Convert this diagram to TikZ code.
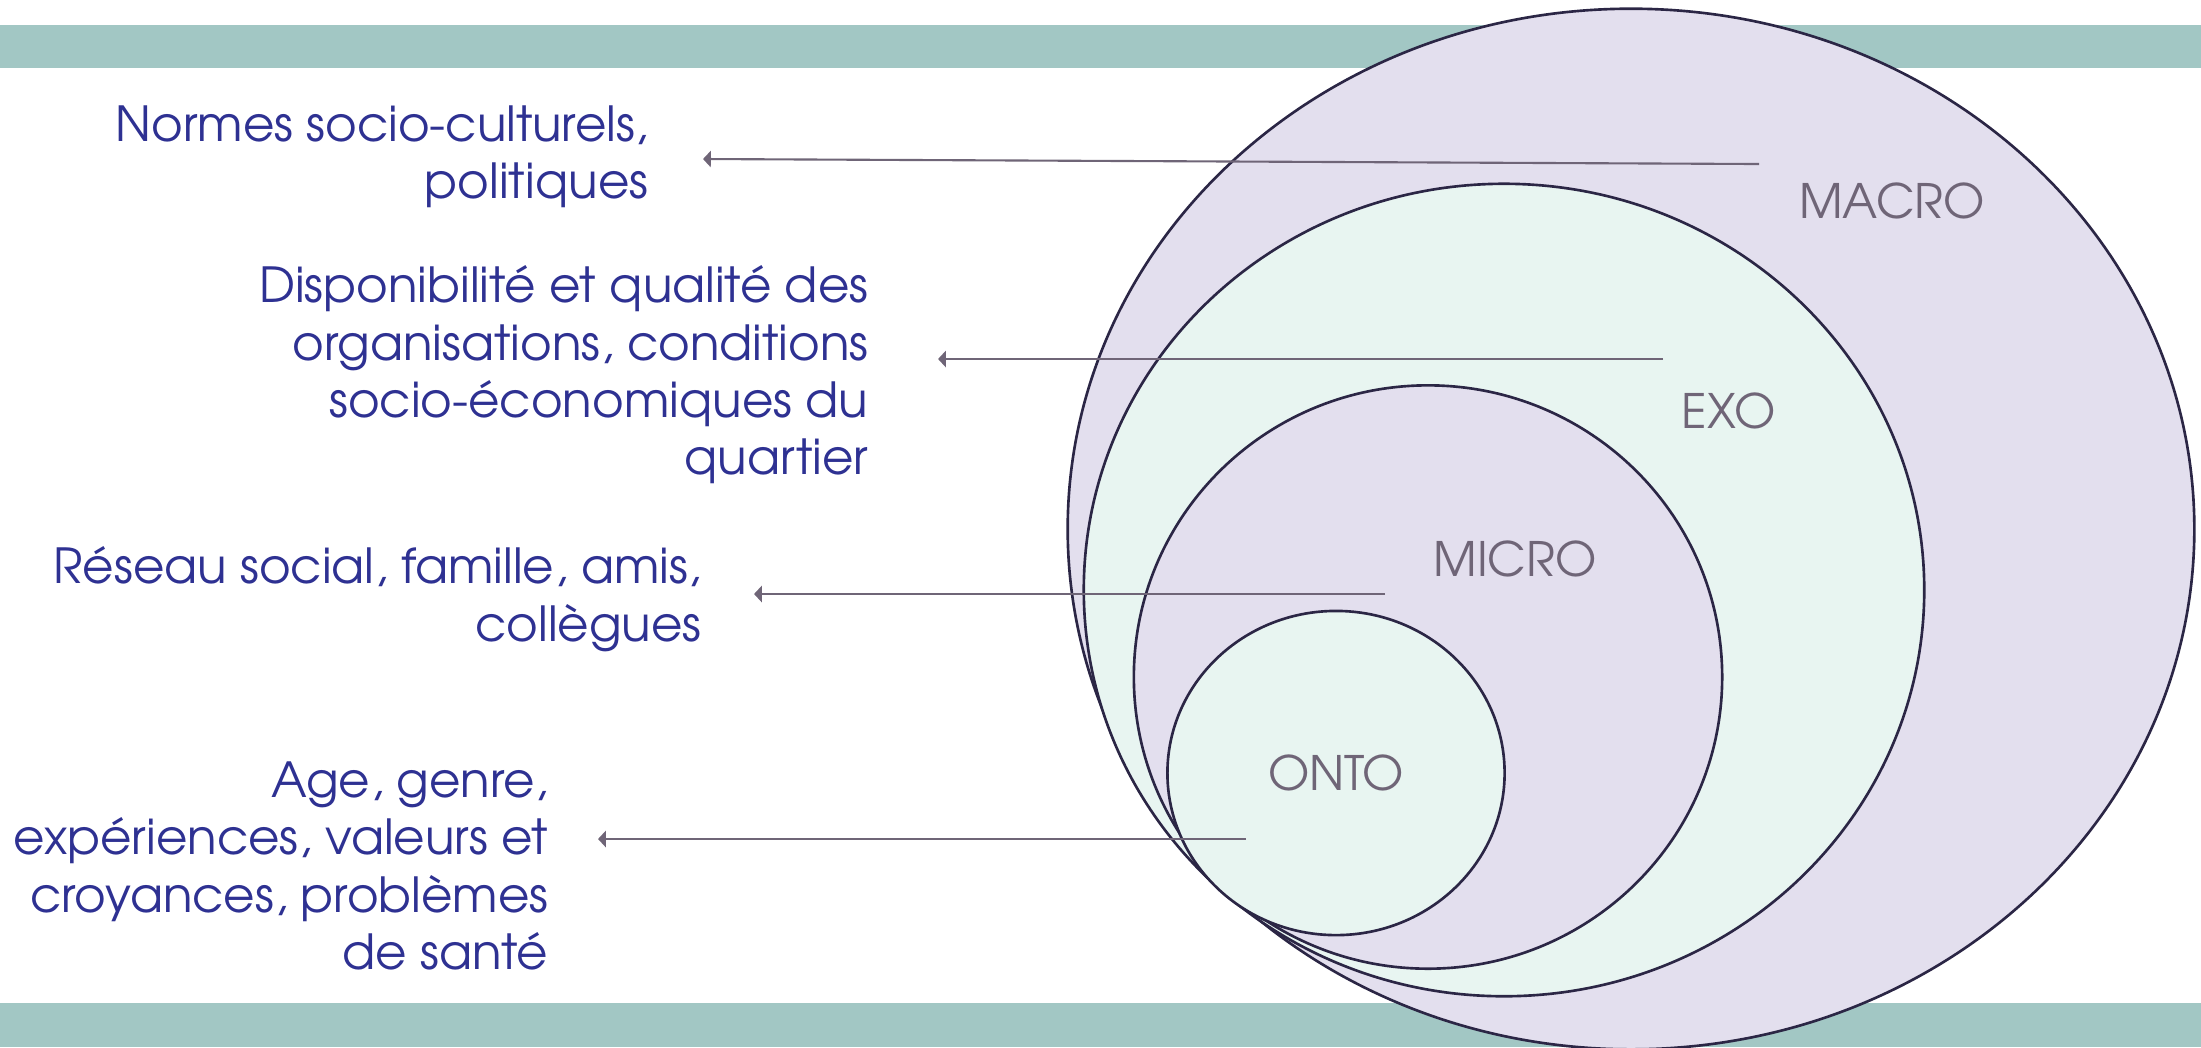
\documentclass[tikz,border=0pt]{standalone}
\usepackage{fontspec}
\setmainfont{TeX Gyre Adventor}
\usetikzlibrary{shapes.geometric,arrows.meta}

\definecolor{bleutexte}{HTML}{2E3192}
\definecolor{grisniveau}{HTML}{6F6577}
\definecolor{bandeverte}{HTML}{A2C7C4}
\definecolor{lavande}{HTML}{E3DFEE}
\definecolor{menthe}{HTML}{E8F5F1}
\definecolor{contour}{HTML}{2B2645}

\begin{document}
\begin{tikzpicture}[x=0.01cm, y=-0.01cm]
	\tikzset{cercle/.style={ellipse, draw=contour, line width=0.75pt, inner sep=0pt},
	niveau/.style={text=grisniveau, font=\fontsize{13.5}{16}\selectfont, inner sep=0pt},
	texte/.style={text=bleutexte, align=right, anchor=east, inner sep=0pt, font=\fontsize{13.75}{16.3}\selectfont},
	fleche/.style={draw=grisniveau, line width=0.6pt, -{Triangle[length=2.2pt, width=4.6pt]}}};

	\useasboundingbox (0,0) rectangle (2201,1047);

	% bandes
	\fill[bandeverte] (0,25) rectangle (2201,68);
	\fill[bandeverte] (0,1003) rectangle (2201,1047);

	% niveaux
	\node[cercle, fill=lavande, minimum width=11.26cm, minimum height=10.40cm] (macro) at (1631,529) {};
	\node[cercle, fill=menthe, minimum width=8.40cm, minimum height=8.12cm] (exo) at (1504,590) {};
	\node[cercle, fill=lavande, minimum width=5.88cm, minimum height=5.83cm] (micro) at (1428,677) {};
	\node[cercle, fill=menthe, minimum width=3.37cm, minimum height=3.24cm] (onto) at (1336,773) {};

	\node[niveau] (lmacro) at (1892,201) {MACRO};
	\node[niveau] (lexo) at (1729,411) {EXO};
	\node[niveau] (lmicro) at (1515,559) {MICRO};
	\node[niveau] (lonto) at (1336,773) {ONTO};

	% textes
	\node[texte] (normes) at (649,157) {Normes socio-culturels,\\ politiques};
	\node[texte] (dispo) at (869,375) {Disponibilité et qualité des\\ organisations, conditions\\ socio-économiques du\\ quartier};
	\node[texte] (reseau) at (702,599) {Réseau social, famille, amis,\\ collègues};
	\node[texte] (age) at (549,866) {Age, genre,\\ expériences, valeurs et\\ croyances, problèmes\\ de santé};

	% fleches
	\coordinate (pmacro) at (1759,164);
	\coordinate (pexo) at (1663,359);
	\coordinate (pmicro) at (1385,594);
	\coordinate (ponto) at (1246,839);

	\draw[fleche] (pmacro) -- ([xshift=5.4mm, yshift=0.5mm]pmacro -| normes.east);
	\draw[fleche] (pexo) -- ([xshift=6.9mm]pexo -| dispo.east);
	\draw[fleche] (pmicro) -- ([xshift=5.2mm]pmicro -| reseau.east);
	\draw[fleche] (ponto) -- ([xshift=4.9mm]ponto -| age.east);

\end{tikzpicture}
\end{document}
